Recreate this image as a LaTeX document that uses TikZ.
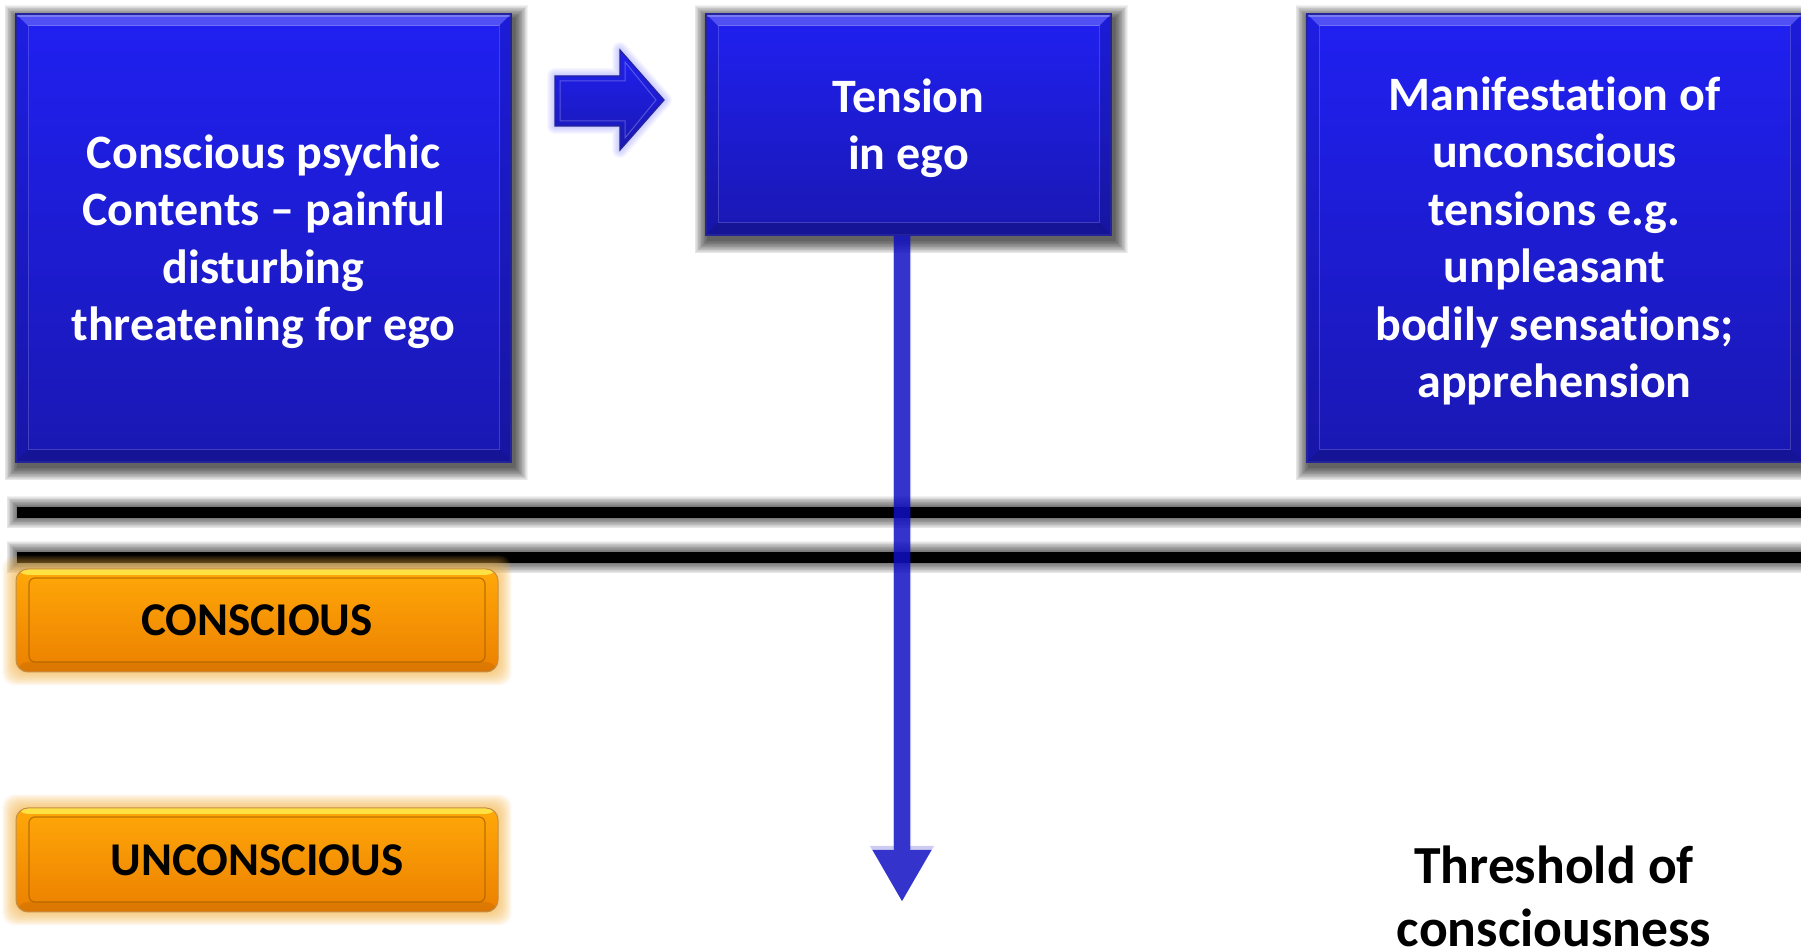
\documentclass[tikz,border=0pt]{standalone}
\usepackage{fontspec}
\setmainfont[Ligatures={TeX,NoCommon}]{Carlito}
\usetikzlibrary{calc,arrows.meta}

\definecolor{boxtop}{HTML}{2020F2}
\definecolor{boxbot}{HTML}{1A18B2}
\definecolor{boxedge}{HTML}{24249A}
\definecolor{orgtop}{HTML}{FFA808}
\definecolor{orgbot}{HTML}{EC8000}
\definecolor{orgedge}{HTML}{A86000}
\definecolor{orghi}{HTML}{FFE84A}
\definecolor{orgglow}{HTML}{F2B040}
\definecolor{flowblue}{RGB}{16,16,195}
\definecolor{arrglow}{HTML}{6A6AFF}

% soft halo made of stacked translucent rectangles
% #1,#2: one corner  #3,#4: opposite corner  #5: colour  #6: corner radius (pt)
% #7: number of layers  #8: step per layer  #9: opacity per layer
\newcommand{\glowbox}[9]{%
  \foreach \k in {1,...,#7}{%
    \fill[#5, opacity=#9, rounded corners=#6pt]
      (#1-\k*#8,#2-\k*#8) rectangle (#3+\k*#8,#4+\k*#8);
  }}

\tikzset{
  bevelpic/.style={path picture={
    \path (path picture bounding box.north west) coordinate (bvnw)
          (path picture bounding box.north east) coordinate (bvne)
          (path picture bounding box.south west) coordinate (bvsw)
          (path picture bounding box.south east) coordinate (bvse);
    \fill[white,opacity=.22] (bvnw) -- (bvne) -- ([shift={(-6pt,-6pt)}]bvne)
          -- ([shift={(6pt,-6pt)}]bvnw) -- cycle;
    \fill[black,opacity=.16] (bvsw) -- (bvse) -- ([shift={(-6pt,6pt)}]bvse)
          -- ([shift={(6pt,6pt)}]bvsw) -- cycle;
    \fill[black,opacity=.06] (bvnw) -- ([shift={(6pt,-6pt)}]bvnw)
          -- ([shift={(6pt,6pt)}]bvsw) -- (bvsw) -- cycle;
    \fill[black,opacity=.10] (bvne) -- ([shift={(-6pt,-6pt)}]bvne)
          -- ([shift={(-6pt,6pt)}]bvse) -- (bvse) -- cycle;
    \fill[white,opacity=.25] (bvnw) rectangle ([shift={(0pt,-1.5pt)}]bvne);
    \draw[white,opacity=.18,line width=.5pt]
          ([shift={(6pt,-6pt)}]bvnw) rectangle ([shift={(-6pt,6pt)}]bvse);
  }},
  bluebox/.style={rectangle, inner sep=0pt, top color=boxtop, bottom color=boxbot,
    draw=boxedge, line width=.6pt, bevelpic},
  boxtext/.style={text=white, align=center, inner sep=0pt,
    font=\fontsize{24}{28.7}\selectfont\bfseries},
  buttonpic/.style={path picture={
    \path (path picture bounding box.north west) coordinate (bnw)
          (path picture bounding box.north east) coordinate (bne)
          (path picture bounding box.south west) coordinate (bsw)
          (path picture bounding box.south east) coordinate (bse);
    \fill[orghi,opacity=.9] (bnw) rectangle ([shift={(0pt,-3pt)}]bne);
    \fill[black,opacity=.07] (bsw) rectangle ([shift={(0pt,5pt)}]bse);
    \draw[orgedge,opacity=.75,line width=.6pt,rounded corners=3pt]
          ([shift={(6.5pt,-4.5pt)}]bnw) rectangle ([shift={(-6.5pt,5pt)}]bse);
  }},
  orangebutton/.style={rectangle, rounded corners=6pt, inner sep=0pt,
    top color=orgtop, bottom color=orgbot, draw=orgedge!70, line width=.5pt,
    text=black, font=\fontsize{23.5}{28.7}\selectfont\bfseries, buttonpic},
  flowarrow/.style={draw=flowblue, line width=8pt,
    -{Triangle[width=27.5pt,length=26pt]}},
  threshlabel/.style={align=center, text=black,
    font=\fontsize{26.8}{31.5}\selectfont\bfseries}
}

\begin{document}
\begin{tikzpicture}[x=0.5pt,y=-0.5pt]
\useasboundingbox (0,0) rectangle (1801,951);
\clip (0,0) rectangle (1801,951);

% shadows behind the three blue boxes
\glowbox{18}{19}{514}{467}{black}{0}{18}{0.75}{.05}
\glowbox{708}{19}{1114}{240}{black}{0}{18}{0.75}{.05}
\glowbox{1309}{19}{1810}{467}{black}{0}{18}{0.75}{.05}

% threshold of consciousness: two heavy rules with soft shadows
\glowbox{17}{507}{1810}{518}{black}{0}{14}{0.75}{.05}
\glowbox{17}{552}{1810}{563}{black}{0}{14}{0.75}{.05}
\coordinate (ruleAw) at (17,512.5);
\coordinate (ruleAe) at (1801,512.5);
\coordinate (ruleBw) at (17,557.5);
\coordinate (ruleBe) at (1801,557.5);
\draw[black,line width=5.5pt] (ruleAw) -- (ruleAe);
\draw[black,line width=5.5pt] (ruleBw) -- (ruleBe);

% glow around the two level buttons
\glowbox{16}{569}{498}{672}{orgglow}{6}{16}{0.85}{.06}
\glowbox{16}{808}{498}{912}{orgglow}{6}{16}{0.85}{.06}

% the three blue boxes and their texts
\node[bluebox, minimum width=247.5pt, minimum height=224pt] (cont) at (263.5,238) {};
\node[boxtext] (contText) at ([yshift=-1.8pt]cont.center)
  {Conscious psychic\\Contents – painful\\disturbing\\threatening for ego};
\node[bluebox, minimum width=202.5pt, minimum height=110.5pt] (tens) at (908.5,124.5) {};
\node[boxtext] (tensText) at ([yshift=-2pt]tens.center) {Tension\\in ego};
\node[bluebox, minimum width=247.5pt, minimum height=224pt] (mani) at (1554.5,238) {};
\node[boxtext] (maniText) at ([yshift=-1.5pt]mani.center)
  {Manifestation of\\unconscious\\tensions e.g.\\unpleasant\\bodily sensations;\\apprehension};

% block arrow from the contents box to the tension box
\begin{scope}
  \foreach \k in {1,...,8}{
    \draw[arrglow,opacity=.05,line width=\k*1pt,line join=round]
      (555,76) -- (620,76) -- (620,50) -- (664,100) -- (620,150) -- (620,126)
      -- (555,126) -- cycle;
  }
  \path[top color=boxtop, bottom color=boxbot, draw=boxedge, line width=.6pt]
    (555,76) coordinate (baTail) -- (620,76) -- (620,50) -- (664,100) coordinate (baTip)
    -- (620,150) -- (620,126) -- (555,126) -- cycle;
  \draw[white,opacity=.25,line width=.5pt]
    (560,81) -- (625,81) -- (625,62) -- (656,100) -- (625,138) -- (625,121)
    -- (560,121) -- cycle;
\end{scope}

% downward arrow from the tension box through the threshold
\coordinate (arrEnd) at (902,902);
\begin{scope}[transparency group, opacity=.85]
  \draw[flowblue, line width=9pt, opacity=.25, -{Triangle[width=30pt,length=28pt]}]
    (tens.south -| arrEnd) -- (arrEnd);
  \draw[flowarrow] (tens.south -| arrEnd) -- (arrEnd);
\end{scope}

% level buttons
\node[orangebutton, minimum width=241pt, minimum height=51.5pt] (cons) at (257,620.5)
  {CONSCIOUS};
\node[orangebutton, minimum width=241pt, minimum height=52pt] (uncons) at (257,860)
  {UNCONSCIOUS};

% label of the threshold
\node[threshlabel] (thr) at (1554,896) {Threshold of\\consciousness};
\end{tikzpicture}
\end{document}
